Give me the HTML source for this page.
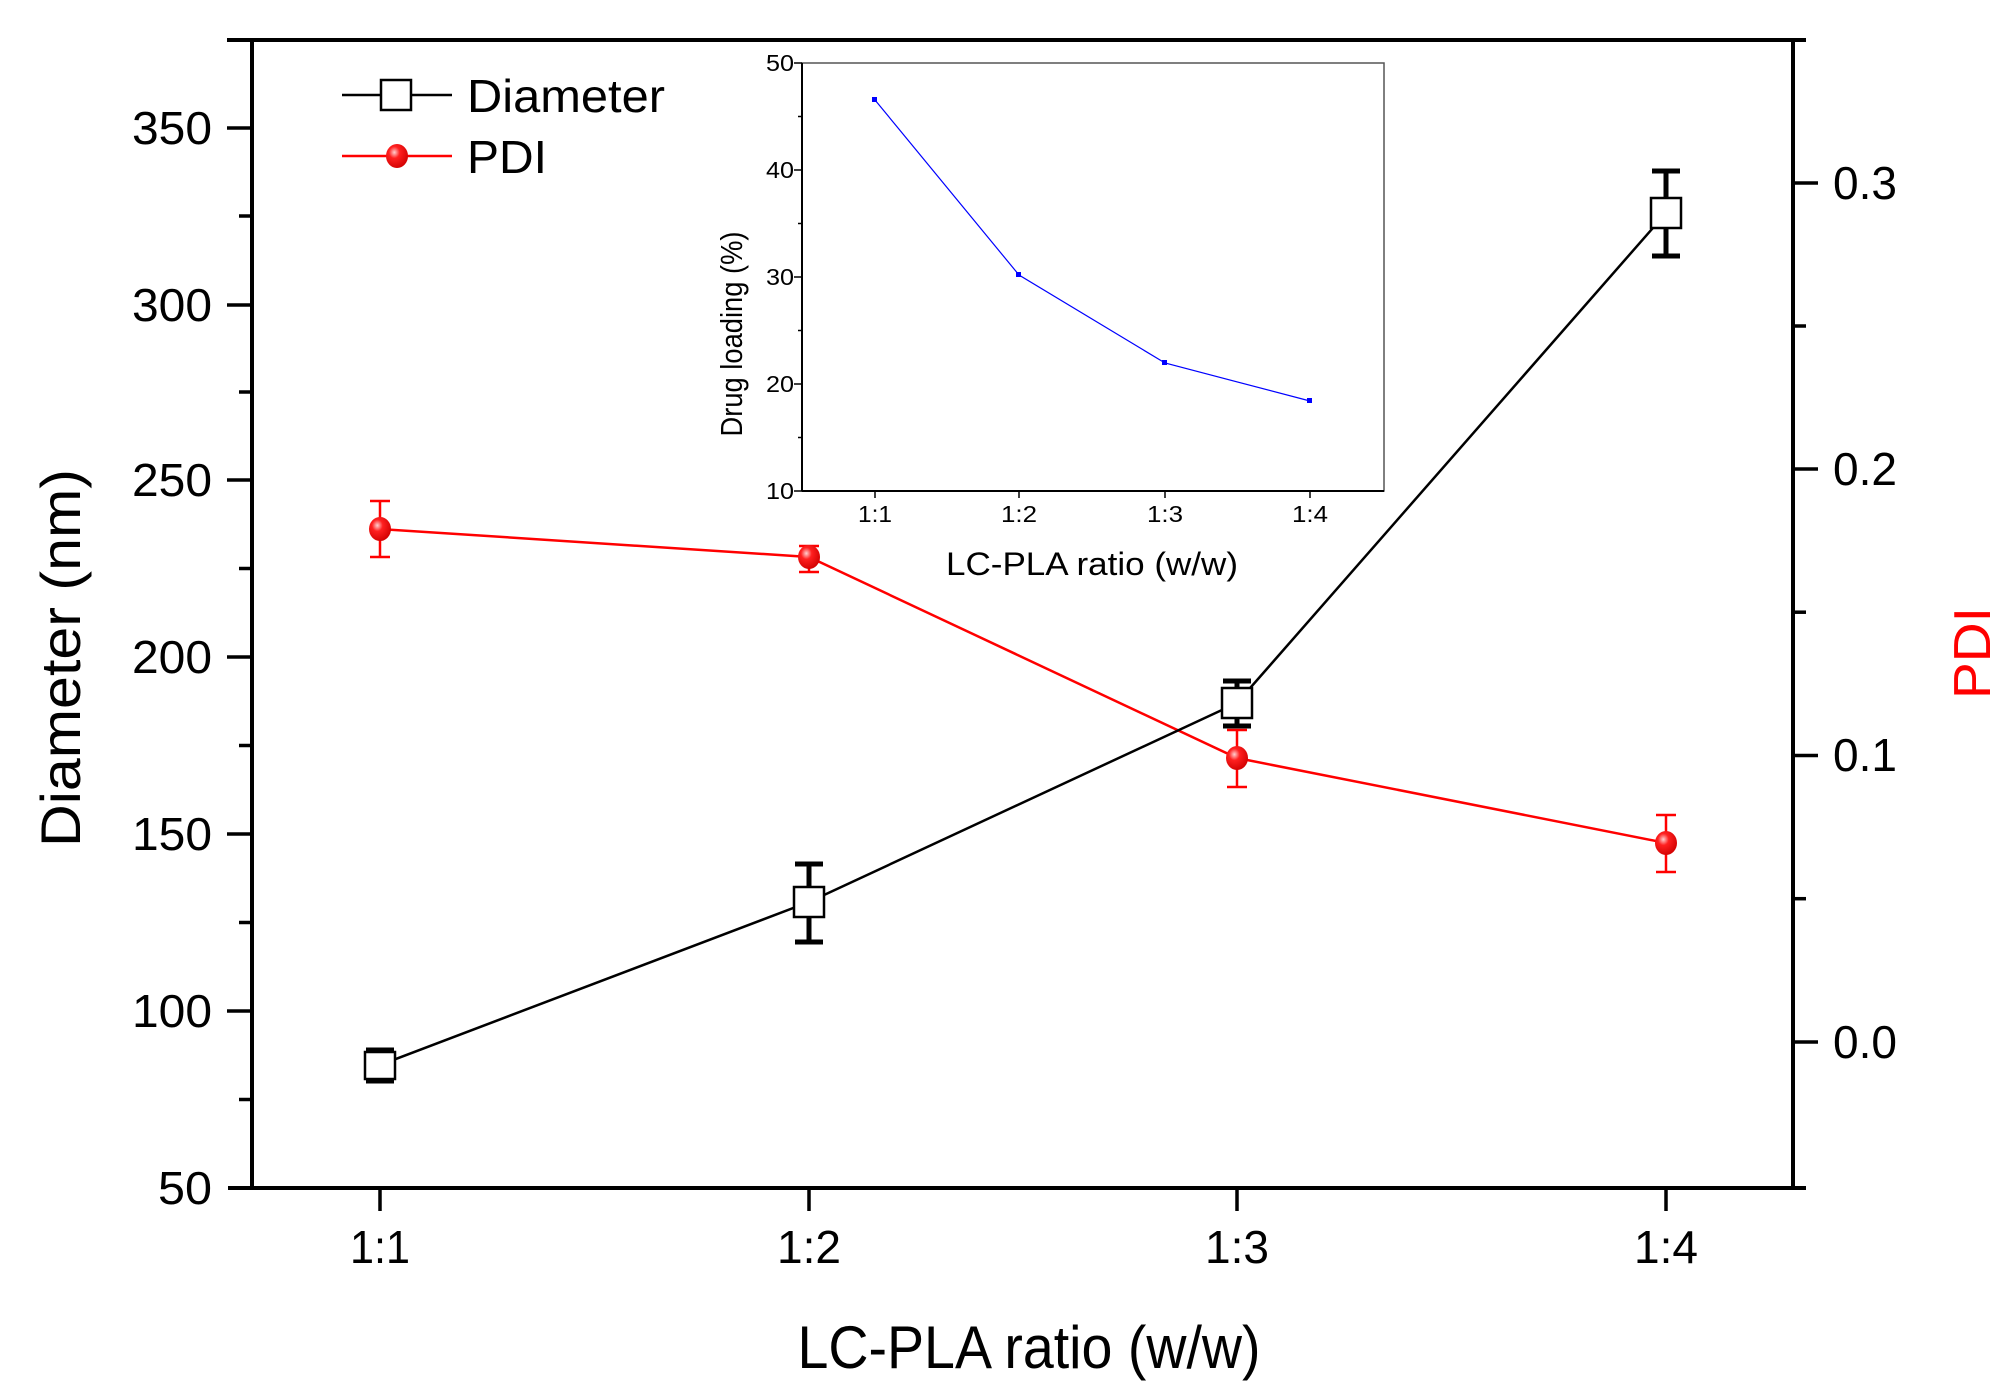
<!DOCTYPE html>
<html><head><meta charset="utf-8"><style>html,body{margin:0;padding:0;background:#fff}svg{display:block}</style></head>
<body>
<svg width="2012" height="1399" viewBox="0 0 2012 1399" xmlns="http://www.w3.org/2000/svg" font-family="'Liberation Sans', Arial, sans-serif">
<defs>
<radialGradient id="rg" cx="0.38" cy="0.35" r="0.7">
<stop offset="0" stop-color="#ffd0d0"/><stop offset="0.35" stop-color="#ff2020"/><stop offset="1" stop-color="#d00000"/>
</radialGradient>
</defs>
<!-- main frame -->
<rect x="252" y="40" width="1541" height="1148" fill="none" stroke="#000" stroke-width="4"/>
<line x1="227" y1="40" x2="252" y2="40" stroke="#000" stroke-width="4"/>
<line x1="1793" y1="40" x2="1806" y2="40" stroke="#000" stroke-width="4"/>
<line x1="228" y1="1188" x2="252" y2="1188" stroke="#000" stroke-width="4"/>
<line x1="1793" y1="1188" x2="1806" y2="1188" stroke="#000" stroke-width="4"/>
<!-- left ticks -->
<g stroke="#000" stroke-width="3.5">
<line x1="227" y1="1011" x2="252" y2="1011"/><line x1="227" y1="834" x2="252" y2="834"/><line x1="227" y1="657" x2="252" y2="657"/><line x1="227" y1="480" x2="252" y2="480"/><line x1="227" y1="305" x2="252" y2="305"/><line x1="227" y1="128" x2="252" y2="128"/>
<line x1="239" y1="1099.5" x2="252" y2="1099.5"/><line x1="239" y1="922.5" x2="252" y2="922.5"/><line x1="239" y1="745.5" x2="252" y2="745.5"/><line x1="239" y1="568.5" x2="252" y2="568.5"/><line x1="239" y1="392" x2="252" y2="392"/><line x1="239" y1="216" x2="252" y2="216"/>
<!-- right ticks -->
<line x1="1793" y1="1042" x2="1818" y2="1042"/><line x1="1793" y1="755.5" x2="1818" y2="755.5"/><line x1="1793" y1="469" x2="1818" y2="469"/><line x1="1793" y1="183" x2="1818" y2="183"/>
<line x1="1793" y1="898.7" x2="1806" y2="898.7"/><line x1="1793" y1="612.2" x2="1806" y2="612.2"/><line x1="1793" y1="326" x2="1806" y2="326"/>
<!-- bottom ticks -->
<line x1="380" y1="1188" x2="380" y2="1211"/><line x1="809" y1="1188" x2="809" y2="1211"/><line x1="1237" y1="1188" x2="1237" y2="1211"/><line x1="1666" y1="1188" x2="1666" y2="1211"/>
</g>
<g font-size="46" fill="#000" text-anchor="end" lengthAdjust="spacingAndGlyphs">
<text x="212" y="1204" textLength="54" lengthAdjust="spacingAndGlyphs">50</text>
<text x="212" y="1027" textLength="80" lengthAdjust="spacingAndGlyphs">100</text>
<text x="212" y="850" textLength="80" lengthAdjust="spacingAndGlyphs">150</text>
<text x="212" y="673" textLength="80" lengthAdjust="spacingAndGlyphs">200</text>
<text x="212" y="496" textLength="80" lengthAdjust="spacingAndGlyphs">250</text>
<text x="212" y="321" textLength="80" lengthAdjust="spacingAndGlyphs">300</text>
<text x="212" y="144" textLength="80" lengthAdjust="spacingAndGlyphs">350</text>
</g>
<g font-size="46" fill="#000">
<text x="1833" y="1058" textLength="64" lengthAdjust="spacingAndGlyphs">0.0</text>
<text x="1833" y="771" textLength="64" lengthAdjust="spacingAndGlyphs">0.1</text>
<text x="1833" y="485" textLength="64" lengthAdjust="spacingAndGlyphs">0.2</text>
<text x="1833" y="199" textLength="64" lengthAdjust="spacingAndGlyphs">0.3</text>
</g>
<g font-size="46" fill="#000" text-anchor="middle">
<text x="380" y="1263" textLength="60" lengthAdjust="spacingAndGlyphs">1:1</text>
<text x="809" y="1263" textLength="64" lengthAdjust="spacingAndGlyphs">1:2</text>
<text x="1237" y="1263" textLength="64" lengthAdjust="spacingAndGlyphs">1:3</text>
<text x="1666" y="1263" textLength="64" lengthAdjust="spacingAndGlyphs">1:4</text>
</g>
<text x="1029" y="1368" font-size="60" text-anchor="middle" textLength="463" lengthAdjust="spacingAndGlyphs">LC-PLA ratio (w/w)</text>
<text transform="translate(80,658) rotate(-90)" font-size="56" text-anchor="middle" textLength="378" lengthAdjust="spacingAndGlyphs">Diameter (nm)</text>
<text transform="translate(1990,653) rotate(-90)" font-size="52" text-anchor="middle" fill="#ff0000" textLength="92" lengthAdjust="spacingAndGlyphs">PDI</text>

<!-- PDI series -->
<g stroke="#ff0000" stroke-width="2.5" fill="none">
<polyline points="380,529 809,557 1237,758 1666,843"/>
<line x1="380" y1="501" x2="380" y2="557"/><line x1="370" y1="501" x2="390" y2="501"/><line x1="370" y1="557" x2="390" y2="557"/>
<line x1="809" y1="546" x2="809" y2="572"/><line x1="799" y1="546" x2="819" y2="546"/><line x1="799" y1="572" x2="819" y2="572"/>
<line x1="1237" y1="730" x2="1237" y2="787"/><line x1="1227" y1="730" x2="1247" y2="730"/><line x1="1227" y1="787" x2="1247" y2="787"/>
<line x1="1666" y1="815" x2="1666" y2="872"/><line x1="1656" y1="815" x2="1676" y2="815"/><line x1="1656" y1="872" x2="1676" y2="872"/>
</g>
<g fill="url(#rg)">
<ellipse cx="380" cy="529" rx="11" ry="12"/><ellipse cx="809" cy="557" rx="11" ry="12"/><ellipse cx="1237" cy="758" rx="11" ry="12"/><ellipse cx="1666" cy="843" rx="11" ry="12"/>
</g>

<!-- Diameter series -->
<g stroke="#000" fill="none">
<polyline stroke-width="2.5" points="380,1065 809,902 1237,703 1666,213"/>
<g stroke-width="5">
<line x1="380" y1="1050" x2="380" y2="1082"/><line x1="366" y1="1050" x2="394" y2="1050"/><line x1="366" y1="1081" x2="394" y2="1081"/>
<line x1="809" y1="864" x2="809" y2="942"/><line x1="795" y1="864" x2="823" y2="864"/><line x1="795" y1="942" x2="823" y2="942"/>
<line x1="1237" y1="681" x2="1237" y2="726"/><line x1="1223" y1="681" x2="1251" y2="681"/><line x1="1223" y1="726" x2="1251" y2="726"/>
<line x1="1666" y1="171" x2="1666" y2="256"/><line x1="1652" y1="171" x2="1680" y2="171"/><line x1="1652" y1="256" x2="1680" y2="256"/>
</g>
</g>
<g fill="#fff" stroke="#000" stroke-width="2.5">
<rect x="365" y="1052" width="30" height="27"/><rect x="794" y="887" width="30" height="30"/><rect x="1222" y="688" width="30" height="30"/><rect x="1651" y="198" width="30" height="30"/>
</g>

<!-- legend -->
<line x1="342" y1="95" x2="452" y2="95" stroke="#000" stroke-width="2.5"/>
<rect x="381" y="80" width="30" height="30" fill="#fff" stroke="#000" stroke-width="2.5"/>
<text x="467" y="112" font-size="46" textLength="198" lengthAdjust="spacingAndGlyphs">Diameter</text>
<line x1="342" y1="156" x2="452" y2="156" stroke="#ff0000" stroke-width="2.5"/>
<ellipse cx="397" cy="156" rx="11" ry="12" fill="url(#rg)"/>
<text x="467" y="173" font-size="46" textLength="80" lengthAdjust="spacingAndGlyphs">PDI</text>

<!-- inset -->
<rect x="802" y="63" width="582" height="428" fill="#fff" stroke="#555" stroke-width="1.5"/>
<line x1="802" y1="63" x2="802" y2="491" stroke="#000" stroke-width="2"/>
<line x1="802" y1="491" x2="1384" y2="491" stroke="#000" stroke-width="2"/>
<g stroke="#000" stroke-width="1.5">
<line x1="794" y1="63" x2="802" y2="63"/><line x1="794" y1="170" x2="802" y2="170"/><line x1="794" y1="277" x2="802" y2="277"/><line x1="794" y1="384" x2="802" y2="384"/><line x1="794" y1="491" x2="802" y2="491"/>
<line x1="798" y1="116.5" x2="802" y2="116.5"/><line x1="798" y1="223.5" x2="802" y2="223.5"/><line x1="798" y1="330.5" x2="802" y2="330.5"/><line x1="798" y1="437.5" x2="802" y2="437.5"/>
<line x1="875" y1="491" x2="875" y2="498"/><line x1="1019" y1="491" x2="1019" y2="498"/><line x1="1165" y1="491" x2="1165" y2="498"/><line x1="1310" y1="491" x2="1310" y2="498"/>
</g>
<g font-size="23" text-anchor="end">
<text x="794" y="71" textLength="28" lengthAdjust="spacingAndGlyphs">50</text><text x="794" y="178" textLength="28" lengthAdjust="spacingAndGlyphs">40</text><text x="794" y="285" textLength="28" lengthAdjust="spacingAndGlyphs">30</text><text x="794" y="392" textLength="28" lengthAdjust="spacingAndGlyphs">20</text><text x="794" y="499" textLength="28" lengthAdjust="spacingAndGlyphs">10</text>
</g>
<g font-size="23" text-anchor="middle">
<text x="875" y="522" textLength="34" lengthAdjust="spacingAndGlyphs">1:1</text><text x="1019" y="522" textLength="36" lengthAdjust="spacingAndGlyphs">1:2</text><text x="1165" y="522" textLength="36" lengthAdjust="spacingAndGlyphs">1:3</text><text x="1310" y="522" textLength="36" lengthAdjust="spacingAndGlyphs">1:4</text>
</g>
<text x="1092" y="575" font-size="32" text-anchor="middle" textLength="292" lengthAdjust="spacingAndGlyphs">LC-PLA ratio (w/w)</text>
<text transform="translate(742,334) rotate(-90)" font-size="31" text-anchor="middle" textLength="205" lengthAdjust="spacingAndGlyphs">Drug loading (%)</text>
<polyline points="875,100 1019,275 1165,363 1310,401" fill="none" stroke="#0000ff" stroke-width="1.2"/>
<g fill="#0000ff">
<rect x="872" y="97" width="5" height="5"/><rect x="1016" y="272" width="5" height="5"/><rect x="1162" y="360" width="5" height="5"/><rect x="1307" y="398" width="5" height="5"/>
</g>
</svg>
</body></html>
